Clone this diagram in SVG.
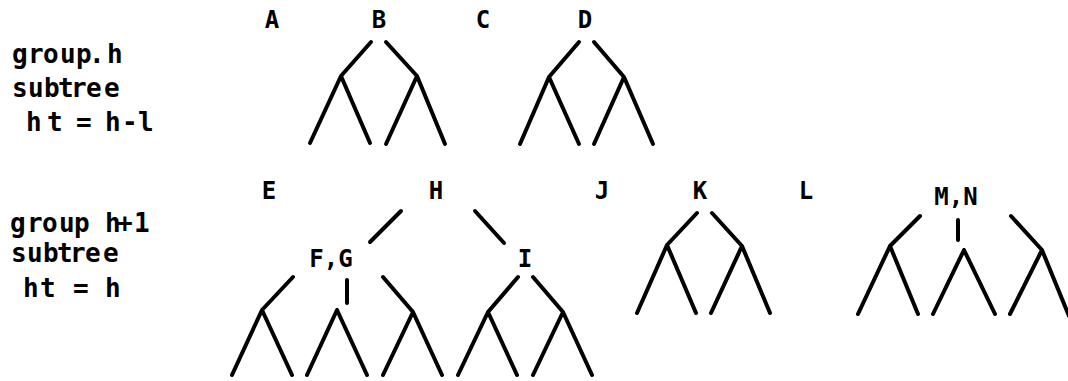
<svg xmlns="http://www.w3.org/2000/svg" width="1068" height="381" viewBox="0 0 1068 381">
  <style>
    .side { font-family: "DejaVu Sans Mono", "Liberation Mono", monospace; font-weight: bold; font-size: 26px; fill: #000; }
    .lbl { font-family: "DejaVu Sans Mono", "Liberation Mono", monospace; font-weight: bold; font-size: 24px; fill: #000; text-anchor: middle; }
    .edge { fill: none; stroke: #000; stroke-width: 4; stroke-linecap: round; stroke-linejoin: round; }
  </style>
  <rect width="1068" height="381" fill="#fff"/>

  <!-- row captions -->
  <g id="caption-h">
    <text class="side" x="12 28 43 60 76 89 97 107" y="63">group. h</text>
    <text class="side" x="12 28 44 58 71 86 104" y="97">subtree</text>
    <text class="side" x="26 47 60 76 92 105 122 138" y="131">ht = h-l</text>
  </g>
  <g id="caption-h1">
    <text class="side" x="10 27 42 59 74 90 105 117 134" y="232">group h+1</text>
    <text class="side" x="11 27 43 57 70 85 103" y="262">subtree</text>
    <text class="side" x="23 40 56 73 90 105" y="297">ht = h</text>
  </g>

  <!-- node labels -->
  <g id="node-A"><text class="lbl" x="272" y="28">A</text></g>
  <g id="node-B"><text class="lbl" x="379" y="28">B</text></g>
  <g id="node-C"><text class="lbl" x="483" y="28">C</text></g>
  <g id="node-D"><text class="lbl" x="585" y="28">D</text></g>
  <g id="node-E"><text class="lbl" x="269" y="199">E</text></g>
  <g id="node-H"><text class="lbl" x="436" y="199">H</text></g>
  <g id="node-FG"><text class="lbl" x="331" y="267">F,G</text></g>
  <g id="node-I"><text class="lbl" x="525" y="267">I</text></g>
  <g id="node-J"><text class="lbl" x="602" y="199">J</text></g>
  <g id="node-K"><text class="lbl" x="700" y="199">K</text></g>
  <g id="node-L"><text class="lbl" x="806" y="199">L</text></g>
  <g id="node-MN"><text class="lbl" x="956" y="205">M,N</text></g>

  <!-- subtree edges -->
  <g id="connectors">
    <path id="tree-B" class="edge" d="M371 42 L341 76 M386 42 L417 76
      M341 76 L310 143 M341 76 L370 143 M417 76 L386 144 M417 76 L445 144"/>
    <path id="tree-D" class="edge" d="M579 42 L549 77 M594 42 L624 77
      M549 77 L520 144 M549 77 L579 144 M624 77 L594 144 M624 77 L653 144"/>
    <path id="tree-H" class="edge" d="M401 211 L370 242 M475 211 L504 243"/>
    <path id="tree-FG" class="edge" d="M293 277 L262 310 M347 280 L347 303 M383 277 L413 312
      M262 310 L232 375 M262 310 L292 375
      M337 310 L307 375 M337 310 L367 375
      M413 312 L383 375 M413 312 L442 375"/>
    <path id="tree-I" class="edge" d="M518 277 L488 312 M533 277 L563 312
      M488 312 L458 375 M488 312 L517 375
      M563 312 L533 375 M563 312 L592 375"/>
    <path id="tree-K" class="edge" d="M697 213 L667 245 M712 213 L742 246
      M667 245 L637 313 M667 245 L696 313
      M742 246 L711 313 M742 246 L770 313"/>
    <path id="tree-MN" class="edge" d="M920 216 L890 246 M958 220 L958 240 M1011 216 L1042 250
      M890 246 L858 314 M890 246 L918 314
      M964 250 L933 314 M964 250 L995 314
      M1042 250 L1010 314 M1042 250 L1069 316"/>
  </g>
</svg>
